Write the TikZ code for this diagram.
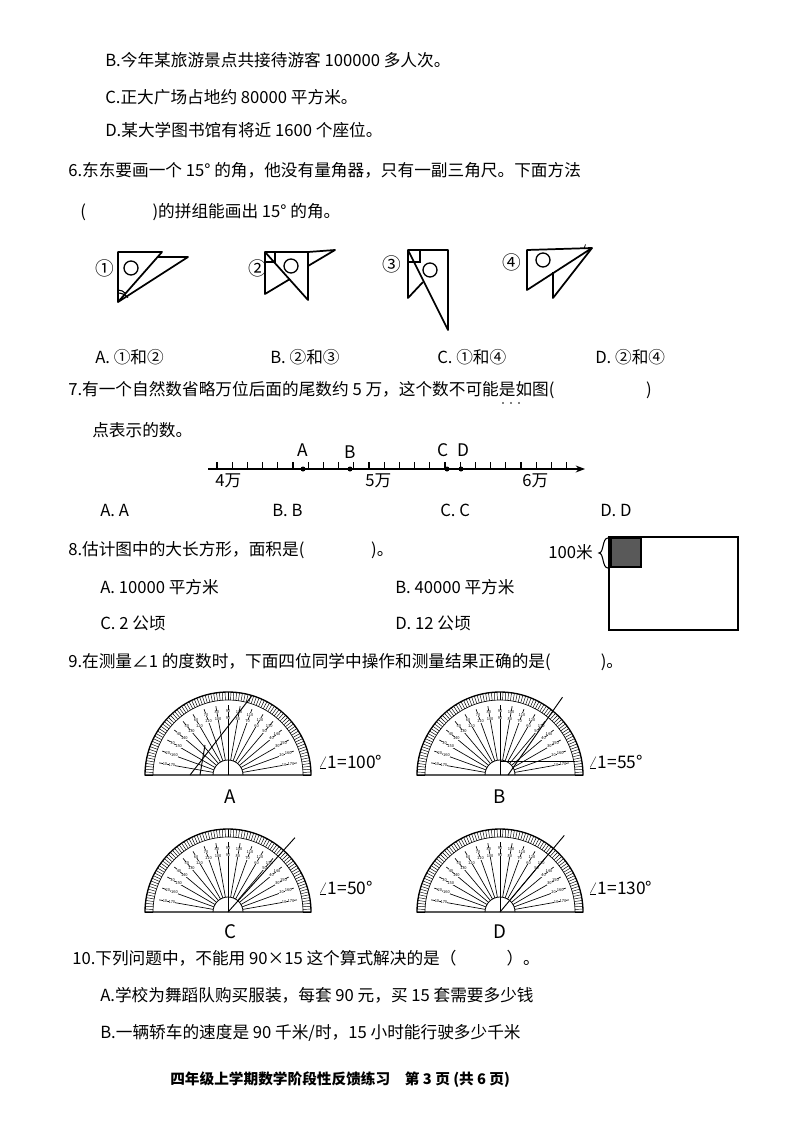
\documentclass[tikz,border=0pt]{standalone}
\usepackage{fontspec}
\setmainfont{Noto Sans CJK SC}
\usetikzlibrary{arrows.meta}
\tikzset{
 txt/.style={anchor=west,inner sep=0pt,font=\fontsize{12.5}{14}\selectfont},
 fig/.style={line width=1.3pt,line join=round},
 pr/.pic={
  \draw[line width=1pt] (-83,0) arc[start angle=180,end angle=0,radius=83] -- cycle;
  \draw[line width=0.5pt] (-75,0) arc[start angle=180,end angle=0,radius=75];
  \foreach \a in {0,2,...,180}{\draw[line width=0.35pt] (\a:75) -- (\a:83);}
  \foreach \a in {10,20,...,170}{\draw[line width=0.5pt] (\a:15) -- (\a:70);
     \node[font=\fontsize{3}{3}\selectfont,inner sep=0pt,fill=white] at (\a:64) {\the\numexpr180-\a\relax};
     \node[font=\fontsize{3}{3}\selectfont,inner sep=0pt,fill=white] at (\a:57) {\a};}
  \draw[line width=0.6pt] (-15,0) arc[start angle=180,end angle=0,radius=15];
  \draw[line width=0.6pt] (0,0) -- (0,15);
 }
}
\begin{document}
\begin{tikzpicture}[x=0.75pt,y=-0.75pt]
\useasboundingbox[fill=white] (0,0) rectangle (794,1123);
\node[txt] (l1) at (105,60) {B.今年某旅游景点共接待游客 100000 多人次。};
\node[txt] (l2) at (105,97) {C.正大广场占地约 80000 平方米。};
\node[txt] (l3) at (105,130) {D.某大学图书馆有将近 1600 个座位。};
\node[txt] (q6) at (68,170) {6.东东要画一个 15° 的角，他没有量角器，只有一副三角尺。下面方法};
\node[txt] (q6b) at (80,212) {(\hspace{4em})的拼组能画出 15° 的角。};
% figures
\node[txt,font=\fontsize{14}{14}\selectfont] (f1) at (95,268) {①};
\draw[fig] (118,252) -- (162,252) -- (118,302) -- cycle;
\draw[fig] (118,302) -- (188,257) -- (157,257);
\draw[line width=1pt] (131,268) circle (7);
\draw[line width=0.8pt] (118,290) arc[start angle=-90,end angle=-40,radius=10];
\draw[line width=0.8pt] (118,293) arc[start angle=-90,end angle=-40,radius=13];
\node[txt,font=\fontsize{14}{14}\selectfont] (f2) at (248,268) {②};
\draw[fig] (265,252) -- (308,252) -- (308,300) -- cycle;
\draw[fig] (308,252) -- (335,250) -- (308,266);
\draw[fig] (265,252) -- (265,294) -- (290,279);
\draw[line width=0.8pt] (265,262) -- (275,262) -- (275,252);
\draw[line width=1pt] (291,266) circle (7);
\node[txt,font=\fontsize{14}{14}\selectfont] (f3) at (382,264) {③};
\draw[fig] (408,250) -- (448,250) -- (448,330) -- cycle;
\draw[fig] (408,250) -- (408,298) -- (423,282);
\draw[line width=0.8pt] (408,262) -- (420,262) -- (420,250);
\draw[line width=1pt] (430,270) circle (7);
\node[txt,font=\fontsize{14}{14}\selectfont] (f4) at (502,262) {④};
\draw[fig] (527,250) -- (592,248) -- (527,290) -- cycle;
\draw[fig] (553,272) -- (553,298) -- (592,248);
\draw[line width=1pt] (543,260) circle (7);
\draw[line width=0.6pt] (584,249) arc[start angle=180,end angle=215,radius=8];
\node[txt] (o6a) at (95,357) {A. ①和②};
\node[txt] (o6b) at (270,357) {B. ②和③};
\node[txt] (o6c) at (437,357) {C. ①和④};
\node[txt] (o6d) at (595,357) {D. ②和④};
% 7
\node[txt] (q7) at (68,390) {7.有一个自然数省略万位后面的尾数约 5 万，这个数不可能是如图(\hspace{5.5em})};
\node[txt] (q7b) at (92,430) {点表示的数。};
\foreach \x in {503,511,519}{\fill (\x,403) circle (0.9);}
\coordinate (nl0) at (208,469);
\coordinate (nl1) at (585,469);
\draw[line width=1pt,-{Stealth[length=7pt]}] (nl0) -- (nl1);
\foreach \i in {0,...,23}{\draw[line width=0.8pt] (217+15.2*\i,469) -- (217+15.2*\i,462);}
\foreach \p/\x in {A/303,B/350,C/447,D/461}{\fill (\x,469) circle (2.5);}
\node[font=\itshape\fontsize{13}{13}\selectfont] at (303,450) {A};
\node[font=\itshape\fontsize{13}{13}\selectfont] at (350,452) {B};
\node[font=\itshape\fontsize{13}{13}\selectfont] at (443,450) {C};
\node[font=\itshape\fontsize{13}{13}\selectfont] at (463,450) {D};
\node[txt] at (215,481) {4万};
\node[txt] at (365,481) {5万};
\node[txt] at (522,481) {6万};
\node[txt] (o7a) at (100,510) {A. A};
\node[txt] (o7b) at (272,510) {B. B};
\node[txt] (o7c) at (440,510) {C. C};
\node[txt] (o7d) at (600,510) {D. D};
% 8
\node[txt] (q8) at (68,550) {8.估计图中的大长方形，面积是(\hspace{4em})。};
\node[txt] at (548,552) {100米};
\draw[line width=0.8pt] (608,538) .. controls (602,538) and (604,553) .. (599,553) .. controls (604,553) and (602,568) .. (608,568);
\fill[gray!70!black] (611,538) rectangle (641,567);
\draw[line width=1.2pt] (611,538) rectangle (641,567);
\draw[line width=1.2pt] (609,537) rectangle (738,630);
\node[txt] at (100,587) {A.\ 10000 平方米};
\node[txt] at (395,587) {B.\ 40000 平方米};
\node[txt] at (100,623) {C.\ 2 公顷};
\node[txt] at (395,623) {D.\ 12 公顷};
% 9
\node[txt] (q9) at (68,662) {9.在测量∠1 的度数时，下面四位同学中操作和测量结果正确的是(\hspace{3em})。};
\pic[yscale=-1] at (228,775) {pr};
\draw[line width=0.7pt] (190,775) -- ++(-52:100);
\draw[line width=0.7pt] (200,775) -- (205,745);
\node[font=\fontsize{14}{14}\selectfont\rmfamily] at (230,797) {A};
\node[txt,font=\rmfamily\fontsize{13}{13}\selectfont] at (318,762) {$\angle$1=100°};
\pic[yscale=-1] at (500,775) {pr};
\draw[line width=0.7pt] (508,775) -- ++(-55:95);
\draw[line width=0.7pt] (500,761) -- (575,761);
\node[font=\fontsize{14}{14}\selectfont\rmfamily] at (500,797) {B};
\node[txt,font=\rmfamily\fontsize{13}{13}\selectfont] at (588,762) {$\angle$1=55°};
\pic[yscale=-1] at (228,912) {pr};
\draw[line width=0.7pt] (228,912) -- ++(-48:100);
\node[font=\fontsize{14}{14}\selectfont\rmfamily] at (230,932) {C};
\node[txt,font=\rmfamily\fontsize{13}{13}\selectfont] at (318,888) {$\angle$1=50°};
\pic[yscale=-1] at (500,912) {pr};
\draw[line width=0.7pt] (500,912) -- ++(-50:100);
\node[font=\fontsize{14}{14}\selectfont\rmfamily] at (500,932) {D};
\node[txt,font=\rmfamily\fontsize{13}{13}\selectfont] at (588,888) {$\angle$1=130°};
% 10
\node[txt] (q10) at (72,958) {10.下列问题中，不能用 90×15 这个算式解决的是（\hspace{3em}）。};
\node[txt] (o10a) at (100,995) {A.学校为舞蹈队购买服装，每套 90 元，买 15 套需要多少钱};
\node[txt] (o10b) at (100,1033) {B.一辆轿车的速度是 90 千米/时，15 小时能行驶多少千米};
\node[txt,font=\bfseries\fontsize{11}{11}\selectfont] (ft) at (170,1080) {四年级上学期数学阶段性反馈练习\quad 第 3 页 (共 6 页)};
\end{tikzpicture}
\end{document}
